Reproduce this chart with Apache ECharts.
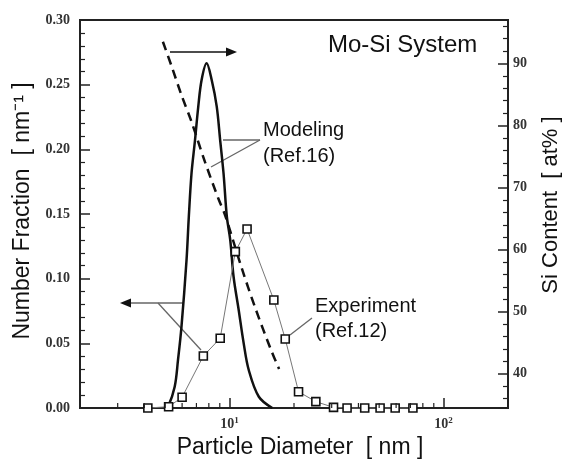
<!DOCTYPE html>
<html>
<head>
<meta charset="utf-8">
<script src="https://cdn.jsdelivr.net/npm/echarts@6/dist/echarts.min.js"></script>
<style>
  html, body { margin: 0; padding: 0; background: #fff; }
  #chart { width: 563px; height: 460px; }
</style>
</head>
<body>
<div id="chart"></div>
<script>
// modeled size distribution (Ref.16): diameter [nm] -> number fraction [nm^-1]
const modelDiameter = [5.0, 5.16, 5.54, 5.74, 5.96, 6.29, 6.45, 6.64, 6.89, 7.14, 7.40, 7.81, 8.25, 8.71, 9.04, 9.37, 9.71, 10.07, 10.44, 11.03, 11.64, 12.29, 13.70, 15.83];
const modelFraction = [0, 0.001, 0.0165, 0.037, 0.063, 0.114, 0.148, 0.1815, 0.2067, 0.233, 0.2536, 0.2665, 0.2536, 0.233, 0.2067, 0.1815, 0.1479, 0.13, 0.1015, 0.0758, 0.05, 0.0294, 0.0087, 0];

// modeled Si content [at%] vs diameter (right axis)
const siDiameter = [4.88, 5.34, 5.96, 6.64, 7.68, 8.87, 9.54, 11.43, 13.22, 15.56, 17.03];
const siContent = [93.5, 89.7, 84.9, 80.6, 74.1, 68.2, 65.5, 56.9, 50.5, 44.0, 40.8];

// experiment (Ref.12)
const expDiameter = [4.15, 5.19, 6.0, 7.54, 9.04, 10.64, 12.07, 16.1, 18.2, 21.0, 25.3, 30.6, 35.4, 42.8, 50.5, 59.4, 71.9];
const expFraction = [0, 0.001, 0.0083, 0.0402, 0.0539, 0.1209, 0.1384, 0.0835, 0.0534, 0.0126, 0.0049, 0.0005, 0, 0, 0, 0, 0];

// minor ticks of the log axis
const logMinorTicks = [3, 4, 5, 6, 7, 8, 9, 20, 30, 40, 50, 60, 70, 80, 90];

const sans = '"Liberation Sans", Arial, sans-serif';
const serif = '"Liberation Serif", "Times New Roman", serif';
const axisColor = '#222';
const tickLabel = { fontFamily: serif, fontWeight: 'bold', fontSize: 14, color: '#333' };

const zip = (xs, ys) => xs.map((x, i) => [x, ys[i]]);

const chart = echarts.init(document.getElementById('chart'));

const option = {
  animation: false,
  backgroundColor: '#fff',
  grid: {
    left: 80, top: 20, right: 55, bottom: 52,
    containLabel: false,
    outerBoundsMode: 'none',
    show: true, borderColor: axisColor, borderWidth: 2, backgroundColor: 'transparent'
  },
  xAxis: {
    type: 'log',
    logBase: 10,
    min: 2,
    max: 200,
    name: 'Particle Diameter  [ nm ]',
    nameLocation: 'middle',
    nameGap: 28,
    nameTextStyle: { fontFamily: sans, fontSize: 23, color: '#111', padding: [0, 0, 0, 12] },
    axisLine: { lineStyle: { color: axisColor, width: 2 } },
    axisTick: { inside: true, length: 10, lineStyle: { color: axisColor, width: 1.5 } },
    splitLine: { show: false },
    axisLabel: {
      showMinLabel: false,
      showMaxLabel: false,
      margin: 8,
      formatter: v => '{b|10}{s|' + Math.round(Math.log10(v)) + '}',
      rich: {
        b: { fontFamily: serif, fontWeight: 'bold', fontSize: 14, color: '#333', lineHeight: 16 },
        s: { fontFamily: serif, fontWeight: 'bold', fontSize: 9, color: '#333', lineHeight: 16, verticalAlign: 'top' }
      }
    }
  },
  yAxis: [
    {
      type: 'value',
      min: 0,
      max: 0.3,
      interval: 0.05,
      position: 'left',
      name: 'Number Fraction  [ nm\u207B\u00B9 ]',
      nameLocation: 'middle',
      nameRotate: 90,
      nameGap: 46,
      nameTextStyle: { fontFamily: sans, fontSize: 23, color: '#111', padding: [0, 0, 0, 6] },
      axisLine: { show: true, lineStyle: { color: axisColor, width: 2 } },
      axisTick: { inside: true, length: 10, lineStyle: { color: axisColor, width: 1.5 } },
      minorTick: { show: true, splitNumber: 5, length: 5, lineStyle: { color: axisColor, width: 1.2 } },
      splitLine: { show: false },
      axisLabel: Object.assign({ margin: 10, formatter: v => v.toFixed(2) }, tickLabel)
    },
    {
      type: 'value',
      min: 34.5,
      max: 97,
      splitNumber: 6,
      position: 'right',
      name: 'Si Content  [ at% ]',
      nameLocation: 'middle',
      nameRotate: 90,
      nameGap: 32,
      nameTextStyle: { fontFamily: sans, fontSize: 22, color: '#111', padding: [0, 0, 0, 18] },
      axisLine: { show: true, lineStyle: { color: axisColor, width: 2 } },
      axisTick: { inside: true, length: 10, lineStyle: { color: axisColor, width: 1.5 } },
      minorTick: { show: true, splitNumber: 5, length: 5, lineStyle: { color: axisColor, width: 1.2 } },
      splitLine: { show: false },
      axisLabel: Object.assign({ margin: 5, showMinLabel: false, showMaxLabel: false }, tickLabel)
    }
  ],
  series: [
    {
      name: 'Modeling',
      type: 'line',
      yAxisIndex: 0,
      data: zip(modelDiameter, modelFraction),
      smooth: 0.35,
      showSymbol: false,
      lineStyle: { color: '#111', width: 2.5 },
      z: 3
    },
    {
      name: 'Si content',
      type: 'line',
      yAxisIndex: 1,
      data: zip(siDiameter, siContent),
      smooth: 0.3,
      showSymbol: false,
      lineStyle: { color: '#111', width: 2.5, type: [9, 6] },
      z: 2
    },
    {
      name: 'Experiment',
      type: 'line',
      yAxisIndex: 0,
      data: zip(expDiameter, expFraction),
      symbol: 'rect',
      symbolSize: 8,
      lineStyle: { color: '#777', width: 1 },
      itemStyle: { color: '#fff', borderColor: '#111', borderWidth: 1.6 },
      clip: false,
      z: 4
    },
    {
      type: 'custom',
      yAxisIndex: 0,
      silent: true,
      data: logMinorTicks.map(v => [v, 0]),
      renderItem: (params, api) => {
        const p = api.coord([api.value(0), 0]);
        return {
          type: 'line',
          shape: { x1: p[0], y1: p[1], x2: p[0], y2: p[1] - 5 },
          style: { stroke: axisColor, lineWidth: 1.2 }
        };
      },
      z: 5
    }
  ],
  graphic: [
    { type: 'text', x: 328, y: 45, style: { text: 'Mo-Si System', font: '24px ' + sans, fill: '#111', verticalAlign: 'middle' } },
    { type: 'text', x: 263, y: 117, style: { text: 'Modeling\n(Ref.16)', font: '20px ' + sans, fill: '#111', lineHeight: 26 } },
    { type: 'text', x: 315, y: 294, style: { text: 'Experiment\n(Ref.12)', font: '20px ' + sans, fill: '#111', lineHeight: 25 } },
    // arrow pointing to the right axis
    { type: 'line', shape: { x1: 170, y1: 52, x2: 229, y2: 52 }, style: { stroke: '#111', lineWidth: 1.5 } },
    { type: 'polygon', shape: { points: [[237, 52], [226, 47.5], [226, 56.5]] }, style: { fill: '#111' } },
    // arrow pointing to the left axis
    { type: 'line', shape: { x1: 128, y1: 303, x2: 184, y2: 303 }, style: { stroke: '#666', lineWidth: 1.3 } },
    { type: 'polygon', shape: { points: [[120, 303], [131, 298.5], [131, 307.5]] }, style: { fill: '#111' } },
    { type: 'line', shape: { x1: 158, y1: 303, x2: 201, y2: 350 }, style: { stroke: '#666', lineWidth: 1.3 } },
    // leaders for Modeling
    { type: 'line', shape: { x1: 223, y1: 140, x2: 260, y2: 140 }, style: { stroke: '#666', lineWidth: 1.3 } },
    { type: 'line', shape: { x1: 260, y1: 140, x2: 211, y2: 167 }, style: { stroke: '#666', lineWidth: 1.3 } },
    // leader for Experiment
    { type: 'line', shape: { x1: 312, y1: 318, x2: 290, y2: 335 }, style: { stroke: '#666', lineWidth: 1.3 } }
  ]
};

chart.setOption(option);
</script>
</body>
</html>
